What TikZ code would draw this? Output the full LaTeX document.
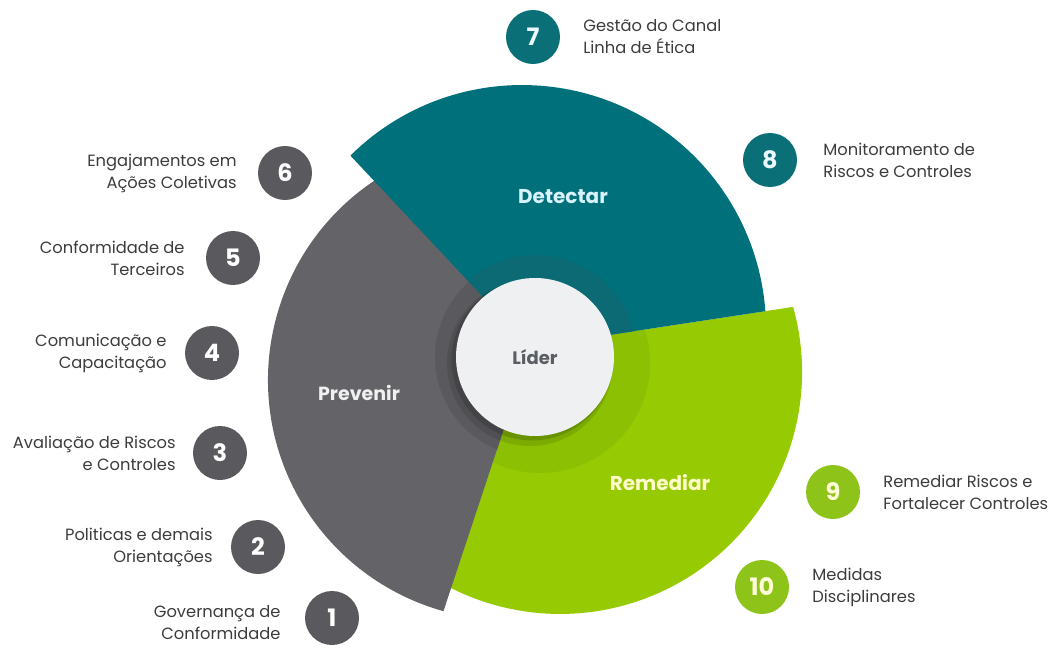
\documentclass[tikz,border=0pt]{standalone}
\usepackage{fontspec}
\setmainfont{Poppins}
\usetikzlibrary{positioning}
%Cores
\definecolor{cinza}{HTML}{646468}
\definecolor{cinzaEsc}{HTML}{5A5A5E}
\definecolor{petroleo}{HTML}{00707A}
\definecolor{petroleoEsc}{HTML}{0B6A74}
\definecolor{verde}{HTML}{96CB04}
\definecolor{verdeEsc}{HTML}{8BC003}
\definecolor{cinzaNum}{HTML}{5A5A5E}
\definecolor{petroleoNum}{HTML}{0B6F78}
\definecolor{verdeNum}{HTML}{8EC41A}
\definecolor{lider}{HTML}{EEF0F2}
\definecolor{liderTxt}{HTML}{5A5D61}
\definecolor{texto}{HTML}{3C3C3C}
%Contornos dos setores
\newcommand{\setorVerde}{(530,302) -- (793.1,342.1) arc[start angle=15.6, end angle=-120, radius=242] -- cycle}
\newcommand{\setorCinza}{(540,320) -- (380.8,472.5) arc[start angle=122, end angle=254.4, radius=240] -- (527,290) -- cycle}
\newcommand{\setorPetroleo}{(530,302) -- (350.4,493.4) arc[start angle=134.7, end angle=4.2, radius=244] -- cycle}
\begin{document}
\begin{tikzpicture}[x=1pt,y=1pt,
    numero/.style={circle, minimum size=54pt, inner sep=0pt, font=\fontsize{24}{24}\selectfont\bfseries},
    rotulo/.style={inner sep=0pt, text=texto, font=\fontsize{16.3}{22}\selectfont},
    setor/.style={font=\fontsize{20}{20}\selectfont\bfseries}]
\useasboundingbox (0,0) rectangle (1054,649);
		%Setores
	\fill[verde] \setorVerde; %Remediar
	\begin{scope}
		\clip \setorVerde;
		\fill[verdeEsc] (540,286) circle (110);
	\end{scope}
	\fill[cinza] \setorCinza; %Prevenir
	\begin{scope}
		\clip \setorCinza;
		\fill[cinzaEsc] (535,292) circle (100);
	\end{scope}
	\fill[petroleo] \setorPetroleo; %Detectar
	\begin{scope}
		\clip \setorPetroleo;
		\fill[petroleoEsc] (535,292) circle (102);
	\end{scope}
		%Circulo central
	\fill[black, opacity=0.10] (530,286) circle (83);
	\fill[black, opacity=0.15] (532,289) circle (80.5);
	\node[circle, fill=lider, minimum size=158pt, inner sep=0pt, text=liderTxt, font=\fontsize{18}{18}\selectfont\bfseries] (lider) at (535,292) {Líder};
		%Nomes dos setores
	\node[setor, text=cyan!15] (detectar) at (563,452) {Detectar};
	\node[setor, text=white!94!black, font=\fontsize{19}{19}\selectfont\bfseries] (prevenir) at (359,256) {Prevenir};
	\node[setor, text=yellow!20!white] (remediar) at (660,166) {Remediar};
		%Etapas - Prevenir
	\node[numero, fill=cinzaNum, text=white] (n1) at (332,31) {1};
	\node[numero, fill=cinzaNum, text=white] (n2) at (258,102) {2};
	\node[numero, fill=cinzaNum, text=white] (n3) at (220,196) {3};
	\node[numero, fill=cinzaNum, text=white] (n4) at (212,296) {4};
	\node[numero, fill=cinzaNum, text=white] (n5) at (233,391) {5};
	\node[numero, fill=cinzaNum, text=white] (n6) at (285,476) {6};
	\node[rotulo, align=right, left=24pt of n1, yshift=-5pt] (l1) {Governança de\\Conformidade};
	\node[rotulo, align=right, left=18pt of n2] (l2) {Politicas e demais\\Orientações};
	\node[rotulo, align=right, left=17pt of n3] (l3) {Avaliação de Riscos\\e Controles};
	\node[rotulo, align=right, left=18pt of n4] (l4) {Comunicação e\\Capacitação};
	\node[rotulo, align=right, left=21pt of n5] (l5) {Conformidade de\\Terceiros};
	\node[rotulo, align=right, left=21pt of n6] (l6) {Engajamentos em\\Ações Coletivas};
		%Etapas - Detectar
	\node[numero, fill=petroleoNum, text=cyan!8] (n7) at (533,612) {7};
	\node[numero, fill=petroleoNum, text=cyan!8] (n8) at (770,489) {8};
	\node[rotulo, align=left, right=23pt of n7] (l7) {Gestão do Canal\\Linha de Ética};
	\node[rotulo, align=left, right=26pt of n8] (l8) {Monitoramento de\\Riscos e Controles};
		%Etapas - Remediar
	\node[numero, fill=verdeNum, text=yellow!15!white] (n9) at (833,157) {9};
	\node[numero, fill=verdeNum, text=yellow!15!white] (n10) at (762,62) {10};
	\node[rotulo, align=left, right=23pt of n9] (l9) {Remediar Riscos e\\Fortalecer Controles};
	\node[rotulo, align=left, right=23pt of n10] (l10) {Medidas\\Disciplinares};
\end{tikzpicture}
\end{document}
